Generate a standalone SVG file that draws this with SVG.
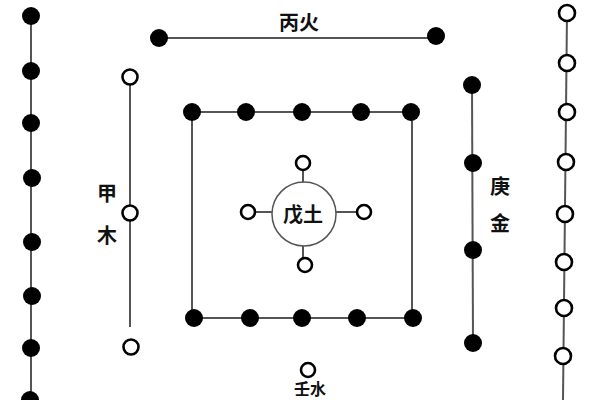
<svg xmlns="http://www.w3.org/2000/svg" width="600" height="400" viewBox="0 0 600 400">
<style>
.ln{stroke:#555;stroke-width:2;fill:none}
.f{fill:#000}
.o{fill:#fff;stroke:#000;stroke-width:2.6}
.t{font-family:"Noto Sans CJK SC","Noto Sans CJK JP",sans-serif;font-size:20px;font-weight:bold;fill:#111;text-anchor:middle;dominant-baseline:central}
</style>
<rect width="600" height="400" fill="#fff"/>
<g id="connectors">
<line class="ln" x1="31" y1="16" x2="31" y2="400"/>
<line class="ln" x1="159" y1="38" x2="436" y2="38"/>
<line class="ln" x1="130" y1="77" x2="130" y2="327"/>
<line class="ln" x1="192" y1="112" x2="411" y2="112"/>
<line class="ln" x1="194" y1="318" x2="413" y2="318"/>
<line class="ln" x1="192" y1="112" x2="192" y2="318"/>
<line class="ln" x1="412" y1="112" x2="412" y2="318"/>
<line class="ln" x1="472" y1="85" x2="473" y2="343"/>
<line class="ln" x1="567" y1="13" x2="563" y2="400"/>
<line class="ln" x1="303" y1="163" x2="303" y2="265"/>
<line class="ln" x1="248" y1="212" x2="364" y2="212"/>
</g>
<g id="left-column">
<circle class="f" cx="31" cy="16" r="9"/>
<circle class="f" cx="31" cy="71" r="9"/>
<circle class="f" cx="31" cy="123" r="9"/>
<circle class="f" cx="32" cy="178" r="9"/>
<circle class="f" cx="32" cy="242" r="9"/>
<circle class="f" cx="32" cy="296" r="9"/>
<circle class="f" cx="31" cy="348" r="9"/>
<circle class="f" cx="30" cy="400" r="9"/>
</g>
<g id="bing-fire">
<circle class="f" cx="159" cy="38" r="9"/>
<circle class="f" cx="436" cy="36" r="9"/>
<text class="t" x="299" y="21">丙火</text>
</g>
<g id="jia-wood">
<circle class="o" cx="130" cy="77" r="7.5"/>
<circle class="o" cx="130" cy="213" r="7.5"/>
<circle class="o" cx="131" cy="347" r="7.5"/>
<text class="t" x="107" y="192">甲</text>
<text class="t" x="107" y="234">木</text>
</g>
<g id="inner-square">
<circle class="f" cx="192" cy="112" r="9"/>
<circle class="f" cx="246" cy="112" r="9"/>
<circle class="f" cx="302" cy="112" r="9"/>
<circle class="f" cx="361" cy="112" r="9"/>
<circle class="f" cx="411" cy="112" r="9"/>
<circle class="f" cx="194" cy="318" r="9"/>
<circle class="f" cx="250" cy="318" r="9"/>
<circle class="f" cx="302" cy="318" r="9"/>
<circle class="f" cx="357" cy="318" r="9"/>
<circle class="f" cx="413" cy="318" r="9"/>
</g>
<g id="wu-earth">
<circle cx="304" cy="214" r="32" fill="#fff" stroke="#555" stroke-width="1.5"/>
<circle class="o" cx="303" cy="163" r="7"/>
<circle class="o" cx="248" cy="212" r="7"/>
<circle class="o" cx="364" cy="212" r="7"/>
<circle class="o" cx="305" cy="265" r="7"/>
<text class="t" x="303" y="213">戊土</text>
</g>
<g id="geng-metal">
<circle class="f" cx="472" cy="85" r="9"/>
<circle class="f" cx="473" cy="163" r="9"/>
<circle class="f" cx="473" cy="250" r="9"/>
<circle class="f" cx="473" cy="343" r="9"/>
<text class="t" x="500" y="185">庚</text>
<text class="t" x="500" y="222">金</text>
</g>
<g id="right-column">
<circle class="o" cx="567" cy="13" r="8"/>
<circle class="o" cx="567" cy="63" r="8"/>
<circle class="o" cx="567" cy="112" r="8"/>
<circle class="o" cx="566" cy="162" r="8"/>
<circle class="o" cx="565" cy="214" r="8"/>
<circle class="o" cx="564" cy="262" r="8"/>
<circle class="o" cx="564" cy="308" r="8"/>
<circle class="o" cx="563" cy="356" r="8"/>
</g>
<g id="ren-water">
<circle class="o" cx="308" cy="370" r="7"/>
<text class="t" x="310" y="388" style="font-size:16px">壬水</text>
</g>
</svg>
